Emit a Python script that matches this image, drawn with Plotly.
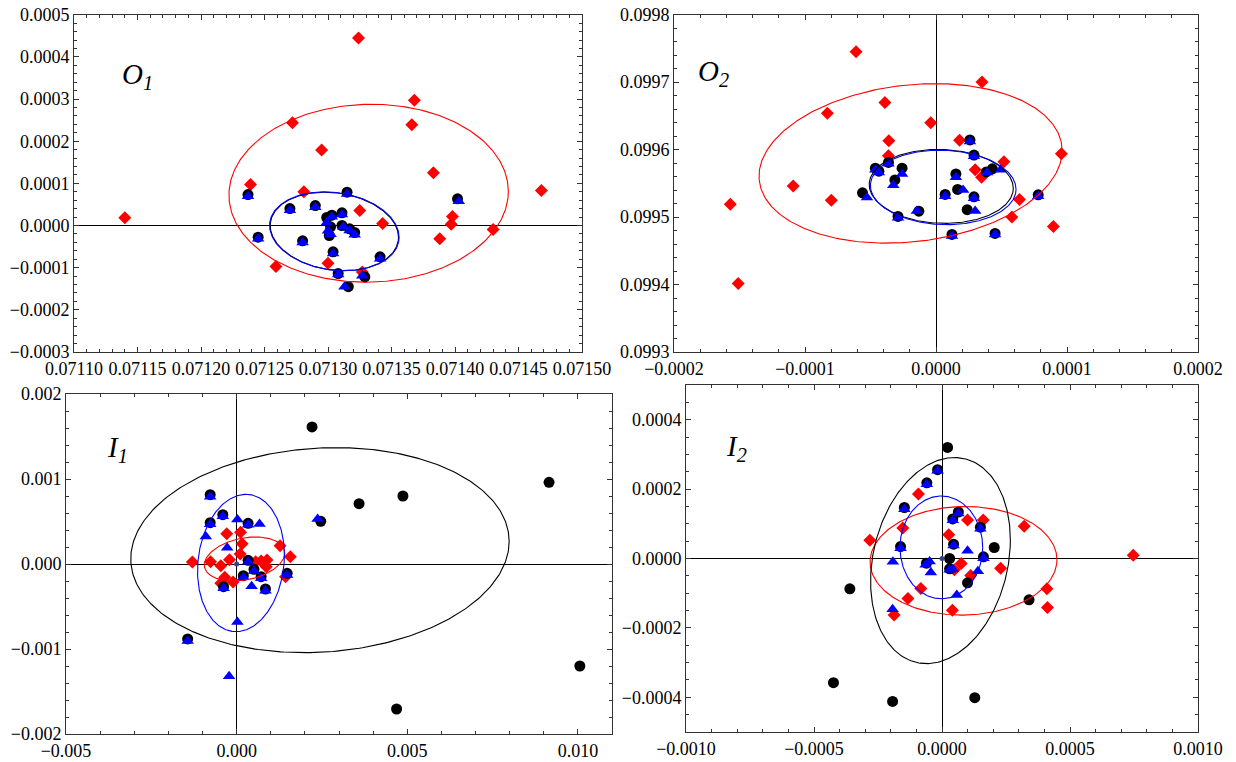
import numpy as np
import plotly.graph_objects as go

# ---------------- data ----------------
# Panel O1
O1_red_x = [0.071140, 0.071324, 0.071368, 0.071366, 0.071272, 0.071295, 0.071383, 0.071239, 0.071281, 0.071468,
            0.071325, 0.071343, 0.071398, 0.071397, 0.071430, 0.071388, 0.071259, 0.071300, 0.071327]
O1_red_y = [0.0000182, 0.000445, 0.000297, 0.000239, 0.000244, 0.000179, 0.000125, 0.0000972, 0.0000798, 0.000083,
            0.0000355, 0.0000047, 0.0000213, 0.000003, -0.0000095, -0.0000316, -0.0000972, -0.0000893, -0.00011]
O1_black_x = [0.071237, 0.071315, 0.071270, 0.071290, 0.071311, 0.071303, 0.071299, 0.071302, 0.071311, 0.071301,
              0.071317, 0.071321, 0.071245, 0.071280, 0.071304, 0.071341, 0.071308, 0.071329, 0.071316, 0.071402]
O1_black_y = [0.0000735, 0.000079, 0.0000403, 0.0000474, 0.00003, 0.0000245, 0.000019, -0.000003, 0.0, -0.0000237,
              -0.0000079, -0.0000166, -0.0000276, -0.0000363, -0.0000624, -0.0000742, -0.000114, -0.000122, -0.000145, 0.0000632]
O1_blue_x = [0.071237, 0.071315, 0.071270, 0.071290, 0.071311, 0.071303, 0.071299, 0.071300, 0.071312, 0.071302,
             0.071317, 0.071321, 0.071245, 0.071280, 0.071304, 0.071341, 0.071308, 0.071327, 0.071313, 0.071403]
O1_blue_y = [0.0000695, 0.000075, 0.0000363, 0.0000434, 0.000026, 0.0000205, 0.0000063, -0.0000126, -0.000003, -0.0000205,
             -0.0000118, -0.000022, -0.0000316, -0.00004, -0.0000663, -0.000079, -0.000116, -0.000119, -0.000145, 0.0000577]

# Panel O2
O2_red_x = [-0.000061, 0.0000351, -0.000039, -0.0000829, -0.000004, -0.000036, 0.000018, -0.0000363, 0.0000957, 0.0000518,
            0.0000299, 0.0000348, -0.000109, -0.000157, -0.0000799, 0.0000637, 0.0000579, 0.0000896, -0.000151]
O2_red_y = [0.0997452, 0.0997003, 0.09967, 0.099654, 0.09964, 0.099613, 0.099614, 0.099591, 0.099594, 0.099582,
            0.09957, 0.099559, 0.099546, 0.099519, 0.099525, 0.099526, 0.0995, 0.099486, 0.0994017]
O2_black_x = [0.0000259, 0.000029, -0.0000463, -0.0000436, -0.0000363, -0.0000259, -0.0000314, -0.0000561, 0.0000152, 0.0000165,
              0.000007, 0.000029, 0.000043, 0.0000384, 0.0000238, -0.0000131, -0.000029, 0.000078, 0.0000122, 0.0000451]
O2_black_y = [0.0996144, 0.099592, 0.0995725, 0.099568, 0.099581, 0.0995725, 0.099555, 0.099536, 0.099564, 0.099541,
              0.0995335, 0.09953, 0.0995715, 0.099567, 0.099511, 0.0995088, 0.0995009, 0.099533, 0.0994742, 0.0994757]
O2_blue_x = [0.0000259, 0.000029, -0.0000463, -0.0000436, -0.0000363, -0.0000259, -0.0000326, -0.0000527, 0.0000152, 0.0000207,
             0.000007, 0.000029, 0.0000494, 0.000039, 0.0000299, -0.0000146, -0.000029, 0.000078, 0.0000122, 0.0000451]
O2_blue_y = [0.099612, 0.09959, 0.09957, 0.099566, 0.099579, 0.099564, 0.099547, 0.099529, 0.099559, 0.09954,
             0.099531, 0.099528, 0.09957, 0.099566, 0.099509, 0.099509, 0.099499, 0.099531, 0.099472, 0.099474]

# Panel I1
I1_black_x = [0.00221, 0.009155, 0.004873, 0.003588, 0.002465, -0.000775, -0.000405, -0.000775, 0.000336, 0.000336,
              0.000509, 0.000197, 0.000718, 0.001481, -0.000382, 0.000845, -0.001435, 0.010058, 0.004688]
I1_black_y = [0.001612, 0.000961, 0.0008, 0.00071, 0.000502, 0.000816, 0.00058, 0.000486, 0.000478, 0.0000431,
              -0.0000627, -0.000137, -0.000149, -0.00011, -0.000267, -0.000294, -0.000882, -0.0012, -0.001706]
I1_blue_x = [-0.000775, -0.000405, -0.000775, 0.0000231, 0.000336, 0.000671, -0.000903, -0.000278, 0.002373, 0.000336,
             0.000509, 0.000197, 0.000718, 0.001481, -0.000382, 0.00044, 0.000845, 0.0000231, -0.001435, -0.00022]
I1_blue_y = [0.000792, 0.000561, 0.000467, 0.000525, 0.000463, 0.000471, 0.000325, 0.000192, 0.000529, 0.0000275,
             -0.0000824, -0.000157, -0.000169, -0.000129, -0.000286, -0.000263, -0.000314, -0.000682, -0.000906, -0.001322]
I1_red_x = [-0.001296, -0.000764, -0.000463, -0.000289, 0.000116, 0.000162, 0.000104, -0.000208, -0.000347, -0.000463,
            -0.000104, 0.000556, 0.000718, 0.000891, 0.000868, 0.001273, 0.001574, 0.001435]
I1_red_y = [0.0000235, 0.0000275, -0.0000196, 0.000357, 0.000373, 0.000239, 0.000118, 0.000051, -0.000157, -0.000227,
            -0.000212, 0.0000275, 0.0000353, 0.000047, -0.0000314, 0.000216, 0.0000863, -0.000149]

# Panel I2
I2_black_x = [0.0000218, -0.0000172, -0.0000593, -0.000147, 0.000064, 0.0000421, 0.00015, 0.0000452, -0.000162, 0.000204,
              0.0000296, 0.000162, -0.0000608, 0.0000296, 0.0000998, -0.00036, 0.00034, -0.000424, -0.000193, 0.000128]
I2_black_y = [0.00032, 0.000256, 0.000218, 0.000147, 0.000134, 0.000114, 0.0000902, 0.0000412, 0.0000345, 0.0000317,
              0.0, 0.0000048, -0.0000134, -0.0000297, -0.00007, -0.0000873, -0.000119, -0.000358, -0.000412, -0.000401]
I2_blue_x = [-0.0000172, -0.0000593, -0.000147, 0.000064, 0.0000421, 0.00015, 0.0000452, -0.000162, 0.0000998, -0.000192,
             0.000162, -0.0000484, -0.000064, -0.0000437, 0.0000296, 0.0000421, 0.00014, 0.0000577, -0.000193]
I2_blue_y = [0.000253, 0.000214, 0.000142, 0.00013, 0.00011, 0.0000854, 0.0000374, 0.0000297, 0.000022, -0.0000096,
             0.000001, -0.0000086, -0.0000182, -0.0000403, -0.0000326, -0.0000307, -0.0000364, -0.000105, -0.000146]
I2_red_x = [-0.000092, -0.000153, -0.000282, 0.0000265, 0.0000998, 0.000161, 0.000321, 0.000747, 0.0000749, 0.0000484,
            0.000229, 0.000112, -0.0000827, -0.000133, 0.00041, 0.000412, 0.0000406, -0.000187]
I2_red_y = [0.000186, 0.0000882, 0.0000528, 0.0000681, 0.000111, 0.000111, 0.000093, 0.0000096, -0.0000144, -0.0000326,
            -0.0000278, -0.0000489, -0.0000863, -0.000115, -0.0000873, -0.000141, -0.000149, -0.000163]

# Ellipses: (centre x, centre y, half-width x, half-height y, correlation)
O1_ell_red = (0.071332, 0.0000766, 0.00011, 0.000211, 0.02)
O1_ell_black = (0.071305, -0.0000140, 0.0000505, 0.0000930, -0.15)
O1_ell_blue = (0.071305, -0.0000138, 0.000051, 0.0000936, -0.15)
O2_ell_red = (-0.0000194, 0.0995796, 0.0001157, 0.0001182, 0.16)
O2_ell_black = (0.000004, 0.0995455, 0.000055, 0.0000548, -0.05)
O2_ell_blue = (0.0000055, 0.099544, 0.0000556, 0.0000552, -0.05)
I1_ell_black = (0.002442, 0.000163, 0.005544, 0.001206, 0.085)
I1_ell_blue = (0.000127, 0.0000118, 0.001273, 0.000808, 0.115)
I1_ell_red = (0.000231, 0.000059, 0.00118, 0.000259, 0.27)
I2_ell_black = (-0.000006, -0.000006, 0.000273, 0.000297, 0.2)
I2_ell_blue = (-0.0000025, 0.000032, 0.0001615, 0.000148, 0.0)
I2_ell_red = (0.000084, -0.0000066, 0.000365, 0.0001565, 0.02)

# centre points (small dots)
I1_centre = ([0.0], [0.0])
I2_centre = ([0.0], [0.0])

panel_labels = ["O<sub>1</sub>", "O<sub>2</sub>", "I<sub>1</sub>", "I<sub>2</sub>"]

# ---------------- figure ----------------
W, H = 1236, 762
RED, BLUE, BLACK = "#ff0000", "#0000ff", "#000000"
FONT = "Liberation Serif"

fig = go.Figure()


def ellipse(p, axis, color):
    cx, cy, sx, sy, rho = p
    t = np.linspace(0, 2 * np.pi, 361)
    x = cx + sx * np.cos(t)
    y = cy + sy * (rho * np.cos(t) + np.sqrt(1 - rho ** 2) * np.sin(t))
    fig.add_trace(go.Scatter(x=x, y=y, mode="lines", line=dict(color=color, width=1.1),
                             xaxis="x" + axis, yaxis="y" + axis, hoverinfo="skip"))


def pts(x, y, axis, color, symbol, size):
    fig.add_trace(go.Scatter(x=x, y=y, mode="markers", xaxis="x" + axis, yaxis="y" + axis,
                             marker=dict(color=color, symbol=symbol, size=size, line=dict(width=0))))


panels = [
    ("", O1_red_x, O1_red_y, O1_black_x, O1_black_y, O1_blue_x, O1_blue_y, [O1_ell_red, O1_ell_black, O1_ell_blue], None),
    ("2", O2_red_x, O2_red_y, O2_black_x, O2_black_y, O2_blue_x, O2_blue_y, [O2_ell_red, O2_ell_black, O2_ell_blue], None),
    ("3", I1_red_x, I1_red_y, I1_black_x, I1_black_y, I1_blue_x, I1_blue_y, [I1_ell_red, I1_ell_black, I1_ell_blue], I1_centre),
    ("4", I2_red_x, I2_red_y, I2_black_x, I2_black_y, I2_blue_x, I2_blue_y, [I2_ell_red, I2_ell_black, I2_ell_blue], I2_centre),
]

for ax, rx, ry, kx, ky, bx, by, ells, cen in panels:
    pts(rx, ry, ax, RED, "diamond", 10)
    pts(kx, ky, ax, BLACK, "circle", 11)
    pts(bx, by, ax, BLUE, "triangle-up", 11)
    ellipse(ells[0], ax, RED)
    ellipse(ells[1], ax, BLACK)
    ellipse(ells[2], ax, BLUE)
    if cen is not None:
        pts(cen[0], cen[1], ax, "#334488", "circle", 5)


def px2x(p):
    return p / W


def px2y(p):
    return 1 - p / H


def axis_style(rng, dtick, minor, fmt, domain, anchor, zeroline):
    return dict(range=rng, dtick=dtick, tick0=rng[0], tickformat=fmt, domain=domain, anchor=anchor,
                automargin=False, showgrid=False, zeroline=zeroline, zerolinecolor="black", zerolinewidth=1,
                showline=True, linecolor="#333333", linewidth=1, mirror="allticks",
                ticks="inside", ticklen=5, tickwidth=1, tickcolor="#333333", ticklabeloverflow="allow",
                minor=dict(ticks="inside", dtick=minor, ticklen=3, tickwidth=1, tickcolor="#333333", showgrid=False),
                tickfont=dict(family=FONT, size=18, color="black"), fixedrange=True)


frames = {
    "": (74, 582, 14.7, 352),
    "2": (674, 1198, 14.7, 352),
    "3": (66, 612, 394, 734),
    "4": (686, 1198, 385, 732),
}
dom = {k: ([px2x(v[0]), px2x(v[1])], [px2y(v[3]), px2y(v[2])]) for k, v in frames.items()}

fig.update_layout(
    template="none",
    xaxis=axis_style([0.07110, 0.07150], 0.00005, 0.00001, ".5f", dom[""][0], "y", False),
    yaxis=axis_style([-0.0003, 0.0005], 0.0001, 0.00002, ".4f", dom[""][1], "x", True),
    xaxis2=axis_style([-0.0002, 0.0002], 0.0001, 0.00002, ".4f", dom["2"][0], "y2", True),
    yaxis2=axis_style([0.0993, 0.0998], 0.0001, 0.00002, ".4f", dom["2"][1], "x2", False),
    xaxis3=axis_style([-0.005, 0.011], 0.005, 0.001, ".3f", dom["3"][0], "y3", True),
    yaxis3=axis_style([-0.002, 0.002], 0.001, 0.0002, ".3f", dom["3"][1], "x3", True),
    xaxis4=axis_style([-0.001, 0.001], 0.0005, 0.0001, ".4f", dom["4"][0], "y4", True),
    yaxis4=axis_style([-0.0005, 0.0005], 0.0002, 0.00005, ".4f", dom["4"][1], "x4", True),
)
fig.layout.yaxis4.tick0 = -0.0004

label_pos = [(120, 76), (696, 73), (105, 449), (724, 448)]
for txt, (lx, ly) in zip(panel_labels, label_pos):
    fig.add_annotation(text="<i>" + txt + "</i>", x=px2x(lx), y=px2y(ly), xref="paper", yref="paper",
                       xanchor="left", yanchor="middle", showarrow=False,
                       font=dict(family=FONT, size=29, color="black"))

fig.update_layout(width=W, height=H, margin=dict(l=0, r=0, t=0, b=0, pad=0), showlegend=False,
                  paper_bgcolor="white", plot_bgcolor="white")

# remove the default 8px page margin so the figure fills the window exactly
fig.write_html("out.html", config={"displayModeBar": False},
               post_script="document.body.style.margin='0px';document.body.style.overflow='hidden';")
